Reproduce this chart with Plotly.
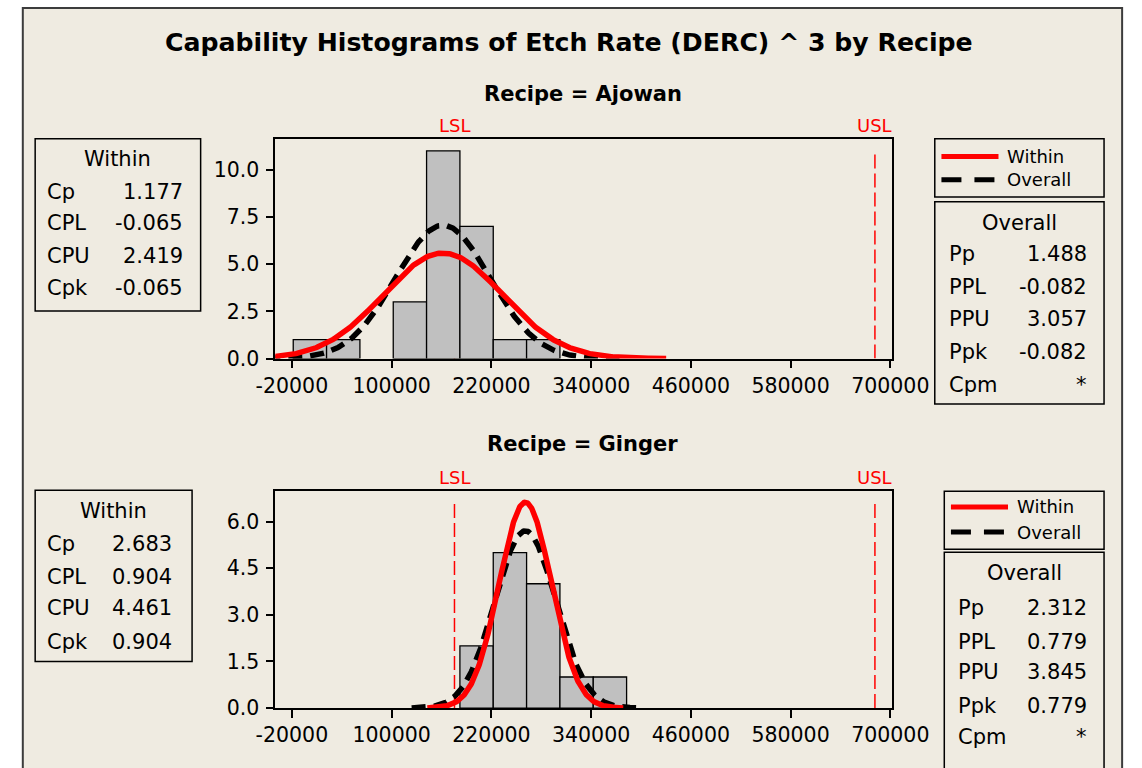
import numpy as np
import plotly.graph_objects as go

# ---- data -------------------------------------------------------------
recipes = ["Ajowan", "Ginger"]
lsl = 175600.0
usl = 681500.0

bin_start = -18400.0
bin_width = 40110.0
# counts per bin (bin index 0..9)
counts_ajowan = [1, 1, 0, 3, 11, 7, 1, 1, 0, 0]
counts_ginger = [0, 0, 0, 0, 0, 2, 5, 4, 1, 1]

# process mean and standard deviations (within / overall)
means = [161700.0, 260840.0]
sigma_within = [71630.0, 31420.0]
sigma_overall = [56660.0, 36470.0]

within_labels = ["Cp", "CPL", "CPU", "Cpk"]
within_ajowan = ["1.177", "-0.065", "2.419", "-0.065"]
within_ginger = ["2.683", "0.904", "4.461", "0.904"]
overall_labels = ["Pp", "PPL", "PPU", "Ppk", "Cpm"]
overall_ajowan = ["1.488", "-0.082", "3.057", "-0.082", "*"]
overall_ginger = ["2.312", "0.779", "3.845", "0.779", "*"]

x_ticks = [-20000, 100000, 220000, 340000, 460000, 580000, 700000]
y_ticks_ajowan = [0.0, 2.5, 5.0, 7.5, 10.0]
y_ticks_ginger = [0.0, 1.5, 3.0, 4.5, 6.0]

# ---- layout helpers ---------------------------------------------------
W, H = 1142, 768
FONT = "DejaVu Sans"
BG = "#EFEBE1"


def px(x):
    return x / W


def py(y):
    return 1 - y / H


fig = go.Figure()
shapes = []
annotations = []

panels = [
    dict(counts=counts_ajowan, ytop=11.65, yticks=y_ticks_ajowan, xa="x", ya="y",
         top=140.7, bottom=364.3),
    dict(counts=counts_ginger, ytop=7.0, yticks=y_ticks_ginger, xa="x2", ya="y2",
         top=498.3, bottom=719.3),
]

n_bins = len(counts_ajowan)
centers = bin_start + bin_width * (np.arange(n_bins) + 0.5)

for i, p in enumerate(panels):
    counts = np.array(p["counts"], dtype=float)
    n_obs = counts.sum()
    # spec limit reference lines, kept behind the bars
    for spec in (lsl, usl):
        shapes.append(dict(
            type="line", xref=p["xa"], yref=p["ya"], layer="below",
            x0=spec, x1=spec, y0=0, y1=p["ytop"] * 0.95,
            line=dict(color="#FF0000", width=1.5, dash="14px,5px")))
    keep = counts > 0
    fig.add_trace(go.Bar(
        x=centers[keep], y=counts[keep], width=bin_width,
        marker=dict(color="#C0C0C0", line=dict(color="black", width=1.3)),
        xaxis=p["xa"], yaxis=p["ya"], showlegend=False))
    mu = means[i]
    scale = n_obs * bin_width
    for sd, color, dash in ((sigma_overall[i], "black", "14px,8px"),
                            (sigma_within[i], "#FF0000", "solid")):
        xs = np.linspace(mu - 3.75 * sd, mu + 3.75 * sd, 400)
        ys = scale * np.exp(-0.5 * ((xs - mu) / sd) ** 2) / (sd * np.sqrt(2 * np.pi))
        fig.add_trace(go.Scatter(
            x=xs, y=ys, mode="lines", line=dict(color=color, width=5.5, dash=dash),
            xaxis=p["xa"], yaxis=p["ya"], showlegend=False, hoverinfo="skip"))

axis_common = dict(
    showgrid=False, zeroline=False, showline=True, mirror=True,
    linecolor="black", linewidth=1.5, ticks="outside", ticklen=8,
    tickwidth=1.5, tickcolor="black",
    tickfont=dict(family=FONT, size=20.5, color="black"),
)
x_range = [-40000, 702600]
for i, p in enumerate(panels):
    suffix = "" if i == 0 else "2"
    dom_y = [py(p["bottom"]), py(p["top"])]
    fig.update_layout(**{
        "xaxis" + suffix: dict(
            axis_common, domain=[px(269.5), px(918.5)], range=x_range,
            tickvals=x_ticks, ticktext=[str(v) for v in x_ticks],
            anchor="y" + suffix, ticklabelstandoff=0),
        "yaxis" + suffix: dict(
            axis_common, domain=dom_y, range=[0, p["ytop"]],
            tickvals=p["yticks"], ticktext=[f"{v:.1f}" for v in p["yticks"]],
            anchor="x" + suffix, ticklabelstandoff=2),
    })

# outer frame
shapes.append(dict(type="rect", xref="paper", yref="paper", layer="below",
                   x0=px(4), x1=px(1160), y0=py(790), y1=py(8),
                   fillcolor=BG, line=dict(color="#3C3C3C", width=2)))


def text(x, y, s, size=21, anchor="center", color="black", bold=False):
    annotations.append(dict(
        x=px(x), y=py(y), xref="paper", yref="paper", text=f"<b>{s}</b>" if bold else s,
        showarrow=False, xanchor=anchor, yanchor="middle",
        font=dict(family=FONT, size=size, color=color)))


def box(x0, y0, x1, y1):
    shapes.append(dict(type="rect", xref="paper", yref="paper",
                       x0=px(x0), x1=px(x1), y0=py(y1), y1=py(y0),
                       line=dict(color="black", width=1.5)))


text(578, 43, "Capability Histograms of Etch Rate (DERC) ^ 3 by Recipe", size=25.2, bold=True)

box_cfg = [
    dict(title_y=95, spec_y=127,
         wbox=(17, 141, 191, 316), w_text_x=27, w_val_x=175, w_ys=[162, 195, 227, 260, 293],
         lbox=(963, 141, 1141, 200), leg=(970, 1030, 1037, 159, 182.5),
         obox=(963, 205, 1141, 410.5), o_text_x=976, o_val_x=1125, o_cx=1052,
         o_ys=[227, 258, 292, 324, 358, 391],
         wvals=within_ajowan, ovals=overall_ajowan),
    dict(title_y=451, spec_y=485,
         wbox=(17, 498, 182, 672), w_text_x=27, w_val_x=163, w_ys=[519, 553, 586, 618, 652],
         lbox=(973, 499, 1141, 558), leg=(980, 1040, 1047, 515, 540.5),
         obox=(973, 561, 1141, 790), o_text_x=985, o_val_x=1125, o_cx=1057,
         o_ys=[582, 618, 652, 683, 717, 749],
         wvals=within_ginger, ovals=overall_ginger),
]

for i, c in enumerate(box_cfg):
    xa = "x" if i == 0 else "x2"
    text(593, c["title_y"], f"Recipe = {recipes[i]}", size=21, bold=True)
    for lbl, spec in (("LSL", lsl), ("USL", usl)):
        annotations.append(dict(x=spec, y=py(c["spec_y"]), xref=xa, yref="paper", text=lbl,
                                showarrow=False, xanchor="center", yanchor="middle",
                                font=dict(family=FONT, size=18, color="#FF0000")))
    # within box
    box(*c["wbox"])
    wx0, _, wx1, _ = c["wbox"]
    text((wx0 + wx1) / 2, c["w_ys"][0], "Within")
    for lbl, val, y in zip(within_labels, c["wvals"], c["w_ys"][1:]):
        text(c["w_text_x"], y, lbl, anchor="left")
        text(c["w_val_x"], y, val, anchor="right")
    # legend box
    box(*c["lbox"])
    lx0, lx1, ltx, ly1, ly2 = c["leg"]
    shapes.append(dict(type="line", xref="paper", yref="paper", x0=px(lx0), x1=px(lx1),
                       y0=py(ly1), y1=py(ly1), line=dict(color="#FF0000", width=5)))
    shapes.append(dict(type="line", xref="paper", yref="paper", x0=px(lx0), x1=px(lx1),
                       y0=py(ly2), y1=py(ly2), line=dict(color="black", width=5, dash="20px,13px")))
    text(ltx, ly1, "Within", size=18, anchor="left")
    text(ltx, ly2, "Overall", size=18, anchor="left")
    # overall box
    box(*c["obox"])
    text(c["o_cx"], c["o_ys"][0], "Overall")
    for lbl, val, y in zip(overall_labels, c["ovals"], c["o_ys"][1:]):
        text(c["o_text_x"], y, lbl, anchor="left")
        text(c["o_val_x"], y, val, anchor="right")

fig.update_layout(
    width=W, height=H, margin=dict(l=0, r=0, t=0, b=0),
    paper_bgcolor="white", plot_bgcolor="white",
    shapes=shapes, annotations=annotations, showlegend=False,
    barmode="overlay",
)

fig.write_html("out.html")
